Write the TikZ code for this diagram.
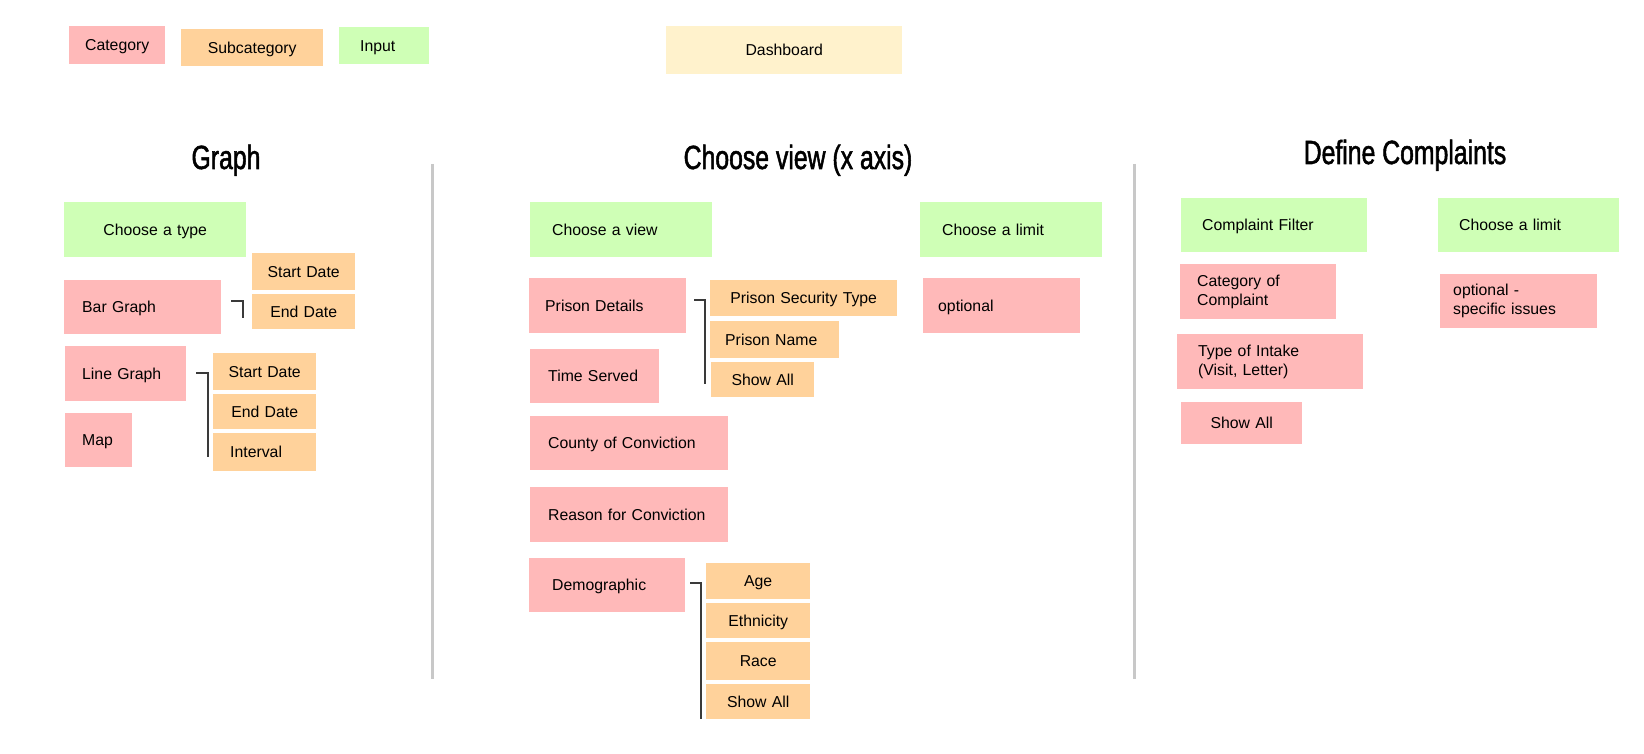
\documentclass[tikz,border=0pt]{standalone}
\usepackage{fontspec}
\setmainfont{Liberation Sans}
\newfontfamily\headfont[FakeStretch=0.74, FakeBold=1.5]{Liberation Sans}
\usepackage{tikz}
\usetikzlibrary{positioning}
\definecolor{ccatfill}{HTML}{FFB9B9}
\definecolor{csubfill}{HTML}{FFD29B}
\definecolor{cinputfill}{HTML}{CFFFB6}
\definecolor{cdashfill}{HTML}{FFF2CC}
\definecolor{csepline}{HTML}{C8C8C8}
\definecolor{cbrackline}{HTML}{3A3A3A}
\newcommand{\cfont}{\fontsize{15.8}{19}\selectfont}
\newcommand{\ctitlefont}{\headfont\fontsize{33.5}{40}\selectfont}
\tikzset{cbox/.style={rectangle, anchor=north west, inner ysep=0pt, text height=11.5pt, text depth=0pt, font=\cfont}}
\tikzset{ccat/.style={cbox, fill=ccatfill}}
\tikzset{csub/.style={cbox, fill=csubfill}}
\tikzset{cinput/.style={cbox, fill=cinputfill}}
\tikzset{cdash/.style={cbox, fill=cdashfill}}
\tikzset{cleft/.style={align=left}}
\tikzset{cmid/.style={align=center, inner xsep=0pt}}
\tikzset{ctwo/.style={text height=, text depth=}}
\tikzset{ctitle/.style={anchor=base, inner sep=0pt, font=\ctitlefont}}
\tikzset{csep/.style={draw=csepline, line width=3pt}}
\tikzset{cbrack/.style={draw=cbrackline, line width=1.3pt}}

\begin{document}
\begin{tikzpicture}[x=1pt, y=-1pt]
  \path[fill=white] (0,0) rectangle (1644,754);

  % legend
  \node[ccat, cmid, text width=96pt, minimum height=38] (legcat) at (69,26) {Category};
  \node[csub, cmid, text width=142pt, minimum height=37] (legsub) at (181,29) {Subcategory};
  \node[cinput, cleft, inner xsep=21pt, text width=48pt, minimum height=37] (leginput) at (339,27) {Input};
  \node[cdash, cmid, text width=236pt, minimum height=48] (dash) at (666,26) {Dashboard};

  % titles
  \node[ctitle] (graphtitle) at (226,169) {Graph};
  \node[ctitle] (viewtitle) at (798,169) {Choose view (x axis)};
  \node[ctitle] (compltitle) at (1405,164) {Define Complaints};

  \coordinate (seponeA) at (432,164);
  \coordinate (seponeB) at (432,679);
  \coordinate (septwoA) at (1134,164);
  \coordinate (septwoB) at (1134,679);
  \draw[csep] (seponeA) -- (seponeB);
  \draw[csep] (septwoA) -- (septwoB);

  % graph column
  \node[cinput, cmid, text width=182pt, minimum height=55] (choosetype) at (64,202) {Choose a type};
  \node[ccat, cleft, inner xsep=18pt, text width=121pt, minimum height=54] (bargraph) at (64,280) {Bar Graph};
  \node[csub, cmid, text width=103pt, minimum height=37] (barstart) at (252,253) {Start Date};
  \node[csub, cmid, text width=103pt, minimum height=35] (barend) at (252,294) {End Date};
  \node[ccat, cleft, inner xsep=17pt, text width=87pt, minimum height=55] (linegraph) at (65,346) {Line Graph};
  \node[csub, cmid, text width=103pt, minimum height=37] (linestart) at (213,353) {Start Date};
  \node[csub, cmid, text width=103pt, minimum height=35] (lineend) at (213,394) {End Date};
  \node[csub, cleft, inner xsep=17pt, text width=69pt, minimum height=38] (lineint) at (213,433) {Interval};
  \node[ccat, cleft, inner xsep=17pt, text width=33pt, minimum height=54] (map) at (65,413) {Map};

  \coordinate (barbrkA) at (231,301);
  \coordinate (barbrkB) at (243,318);
  \draw[cbrack] (barbrkA) -| (barbrkB);
  \coordinate (linebrkA) at (196,373);
  \coordinate (linebrkB) at (208,457);
  \draw[cbrack] (linebrkA) -| (linebrkB);

  % choose view column
  \node[cinput, cleft, inner xsep=22pt, text width=138pt, minimum height=55] (chooseview) at (530,202) {Choose a view};
  \node[cinput, cleft, inner xsep=22pt, text width=138pt, minimum height=55] (chooselimit) at (920,202) {Choose a limit};
  \node[ccat, cleft, inner xsep=16pt, text width=125pt, minimum height=55] (prisondet) at (529,278) {Prison Details};
  \node[csub, cmid, text width=187pt, minimum height=36] (prisonsec) at (710,280) {Prison Security Type};
  \node[csub, cleft, inner xsep=15pt, text width=99pt, minimum height=37] (prisonname) at (710,321) {Prison Name};
  \node[csub, cmid, text width=103pt, minimum height=35] (prisonall) at (711,362) {Show All};
  \node[ccat, cleft, inner xsep=15pt, text width=127pt, minimum height=55] (optional) at (923,278) {optional};
  \node[ccat, cleft, inner xsep=18pt, text width=93pt, minimum height=54] (timeserved) at (530,349) {Time Served};
  \node[ccat, cleft, inner xsep=18pt, text width=162pt, minimum height=54] (county) at (530,416) {County of Conviction};
  \node[ccat, cleft, inner xsep=18pt, text width=162pt, minimum height=55] (reason) at (530,487) {Reason for Conviction};
  \node[ccat, cleft, inner xsep=23pt, text width=110pt, minimum height=54] (demographic) at (529,558) {Demographic};
  \node[csub, cmid, text width=104pt, minimum height=36] (age) at (706,563) {Age};
  \node[csub, cmid, text width=104pt, minimum height=35] (ethnicity) at (706,603) {Ethnicity};
  \node[csub, cmid, text width=104pt, minimum height=38] (race) at (706,642) {Race};
  \node[csub, cmid, text width=104pt, minimum height=35] (demoall) at (706,684) {Show All};

  \coordinate (prisonbrkA) at (694,300);
  \coordinate (prisonbrkB) at (705,384);
  \draw[cbrack] (prisonbrkA) -| (prisonbrkB);
  \coordinate (demobrkA) at (690,583);
  \coordinate (demobrkB) at (701,719);
  \draw[cbrack] (demobrkA) -| (demobrkB);

  % define complaints column
  \node[cinput, cleft, inner xsep=21pt, text width=144pt, minimum height=54] (complfilter) at (1181,198) {Complaint Filter};
  \node[cinput, cleft, inner xsep=21pt, text width=139pt, minimum height=54] (compllimit) at (1438,198) {Choose a limit};
  \node[ccat, ctwo, cleft, inner xsep=17pt, text width=122pt, minimum height=55] (catcompl) at (1180,264) {Category of\\Complaint};
  \node[ccat, ctwo, cleft, inner xsep=13pt, text width=131pt, minimum height=54] (optspec) at (1440,274) {optional -\\specific issues};
  \node[ccat, ctwo, cleft, inner xsep=21pt, text width=144pt, minimum height=55] (intake) at (1177,334) {Type of Intake\\(Visit, Letter)};
  \node[ccat, cmid, text width=121pt, minimum height=42] (complall) at (1181,402) {Show All};
\end{tikzpicture}
\end{document}
